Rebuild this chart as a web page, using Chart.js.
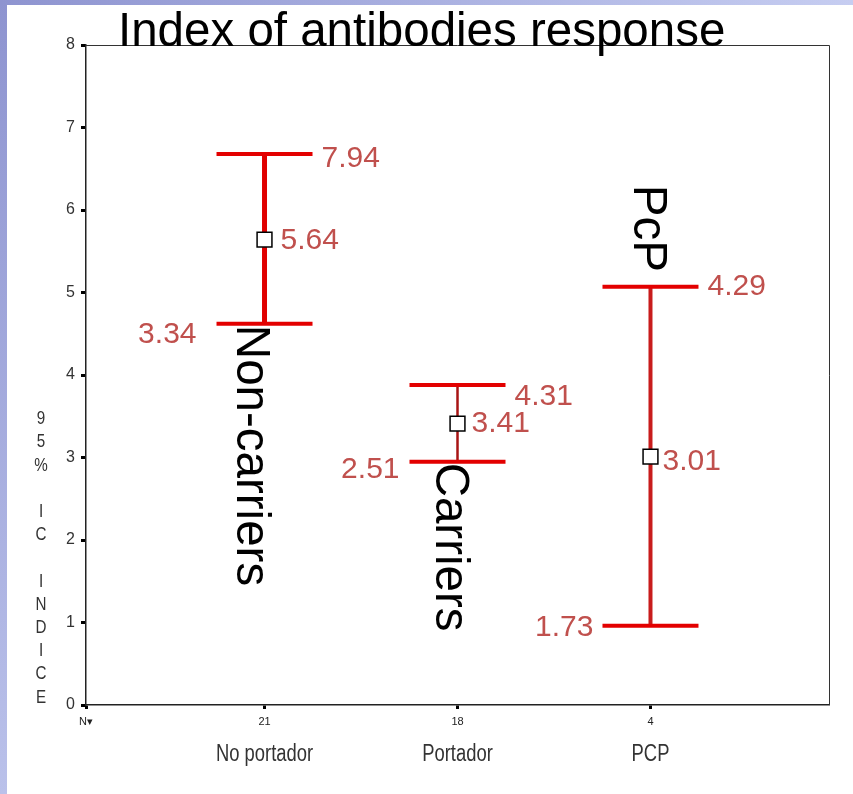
<!DOCTYPE html>
<html>
<head>
<meta charset="utf-8">
<script src="https://cdn.jsdelivr.net/npm/chart.js@4"></script>
<style>
  html, body { margin: 0; padding: 0; background: #fff; }
  #wrap { width: 853px; height: 794px; }
</style>
</head>
<body>
<div id="wrap"><canvas id="chart" width="853" height="794"></canvas></div>
<script>
// --- data ---
const categories = ['No portador', 'Portador', 'PCP'];
const groupNames = ['Non-carriers', 'Carriers', 'PcP'];
const nCounts = ['21', '18', '4'];
const means = [5.64, 3.41, 3.01];
const upperCI = [6.68, 3.88, 5.07];
const lowerCI = [4.62, 2.95, 0.96];
// value labels as written on the slide
const upperText = ['7.94', '4.31', '4.29'];
const meanText = ['5.64', '3.41', '3.01'];
const lowerText = ['3.34', '2.51', '1.73'];
const yLabelChars = ['9', '5', '%', '', 'I', 'C', '', 'I', 'N', 'D', 'I', 'C', 'E'];

const catPos = [1, 2, 3];
const X_MIN = 0.075, X_MAX = 3.925;

// --- styles ---
const RED = '#e30000';
const TEXT_RED = '#c0504d';
const SANS = "'Liberation Sans', Arial, sans-serif";
const NARROW_SCALE = 0.8; // fake Arial Narrow by squeezing Liberation Sans
const stemStyle = [
  { color: '#e00000', width: 5 },
  { color: '#a81414', width: 2.5 },
  { color: '#c81c1c', width: 4 },
];
const CAP_HALF = 48;

// text placement relative to each error bar
const valuePlace = [
  { up: [9, 4.5], mean: [16, 1], low: [-20, 11] },
  { up: [9, 12], mean: [14, 0], low: [-10, 8] },
  { up: [9, 0], mean: [12, 5], low: [-9, 2] },
];
const groupPlace = [
  { dx: -28, anchor: 'low', dy: 1 },
  { dx: -22, anchor: 'low', dy: 1 },
  { dx: -16, anchor: 'up', dy: -102 },
];

function narrowText(ctx, txt, cx, cy, size) {
  ctx.save();
  ctx.font = size + 'px ' + SANS;
  ctx.textAlign = 'center';
  ctx.textBaseline = 'middle';
  ctx.translate(cx, cy);
  ctx.scale(NARROW_SCALE, 1);
  ctx.fillText(txt, 0, 0);
  ctx.restore();
}

const slidePlugin = {
  id: 'slide',
  beforeDraw(chart) {
    const ctx = chart.ctx;
    ctx.save();
    ctx.fillStyle = '#fff';
    ctx.fillRect(0, 0, chart.width, chart.height);
    let g = ctx.createLinearGradient(0, 0, 0, chart.height);
    g.addColorStop(0, '#8e94d0');
    g.addColorStop(1, '#bac1ea');
    ctx.fillStyle = g;
    ctx.fillRect(0, 0, 7, chart.height);
    g = ctx.createLinearGradient(0, 0, chart.width, 0);
    g.addColorStop(0, '#8e94d0');
    g.addColorStop(1, '#c6cdf1');
    ctx.fillStyle = g;
    ctx.fillRect(0, 0, chart.width, 5);
    ctx.restore();
  }
};

const errorBarPlugin = {
  id: 'errorBars',
  beforeDatasetsDraw(chart) {
    const { ctx, scales: { x, y } } = chart;
    ctx.save();
    catPos.forEach((c, i) => {
      const px = x.getPixelForValue(c);
      const yUp = y.getPixelForValue(upperCI[i]);
      const yLo = y.getPixelForValue(lowerCI[i]);
      ctx.strokeStyle = stemStyle[i].color;
      ctx.lineWidth = stemStyle[i].width;
      ctx.beginPath();
      ctx.moveTo(px, yUp);
      ctx.lineTo(px, yLo);
      ctx.stroke();
      ctx.strokeStyle = RED;
      ctx.lineWidth = 4;
      ctx.beginPath();
      ctx.moveTo(px - CAP_HALF, yUp);
      ctx.lineTo(px + CAP_HALF, yUp);
      ctx.moveTo(px - CAP_HALF, yLo);
      ctx.lineTo(px + CAP_HALF, yLo);
      ctx.stroke();
    });
    ctx.restore();
  }
};

const textPlugin = {
  id: 'texts',
  afterDraw(chart) {
    const { ctx, chartArea: a, scales: { x, y } } = chart;
    ctx.save();
    // frame top and right
    ctx.strokeStyle = '#333';
    ctx.lineWidth = 1;
    ctx.beginPath();
    ctx.moveTo(a.left, a.top + 0.5);
    ctx.lineTo(a.right + 0.5, a.top + 0.5);
    ctx.lineTo(a.right + 0.5, a.bottom);
    ctx.stroke();

    // title
    ctx.fillStyle = '#000';
    ctx.font = '47.5px ' + SANS;
    ctx.textAlign = 'left';
    ctx.textBaseline = 'alphabetic';
    ctx.fillText('Index of antibodies response', 118, 46);

    // stacked y label
    ctx.fillStyle = '#333';
    yLabelChars.forEach((ch, k) => narrowText(ctx, ch, 41, 419 + k * 23.2, 19));

    // category names
    categories.forEach((c, i) => narrowText(ctx, c, x.getPixelForValue(catPos[i]), 755, 23));

    // value labels
    ctx.font = '30px ' + SANS;
    ctx.fillStyle = TEXT_RED;
    ctx.textBaseline = 'middle';
    catPos.forEach((c, i) => {
      const px = x.getPixelForValue(c);
      const p = valuePlace[i];
      const yUp = y.getPixelForValue(upperCI[i]);
      const yLo = y.getPixelForValue(lowerCI[i]);
      const yM = y.getPixelForValue(means[i]);
      ctx.textAlign = 'left';
      ctx.fillText(upperText[i], px + CAP_HALF + p.up[0], yUp + p.up[1]);
      ctx.fillText(meanText[i], px + p.mean[0], yM + p.mean[1]);
      ctx.textAlign = 'right';
      ctx.fillText(lowerText[i], px - CAP_HALF + p.low[0], yLo + p.low[1]);
    });

    // rotated group names
    ctx.font = '47.5px ' + SANS;
    ctx.fillStyle = '#000';
    ctx.textAlign = 'left';
    ctx.textBaseline = 'alphabetic';
    catPos.forEach((c, i) => {
      const g = groupPlace[i];
      const px = x.getPixelForValue(c) + g.dx;
      const py = y.getPixelForValue(g.anchor === 'up' ? upperCI[i] : lowerCI[i]) + g.dy;
      ctx.save();
      ctx.translate(px, py);
      ctx.rotate(Math.PI / 2);
      ctx.fillText(groupNames[i], 0, 0);
      ctx.restore();
    });
    ctx.restore();
  }
};

new Chart(document.getElementById('chart'), {
  type: 'scatter',
  data: {
    datasets: [{
      data: catPos.map((c, i) => ({ x: c, y: means[i] })),
      pointStyle: 'rect',
      radius: 10.5,
      borderColor: '#000',
      borderWidth: 1.5,
      backgroundColor: '#fff',
    }]
  },
  options: {
    responsive: false,
    animation: false,
    devicePixelRatio: 1,
    layout: { padding: { top: 45, right: 24, left: 0, bottom: 0 } },
    plugins: { legend: { display: false }, tooltip: { enabled: false } },
    scales: {
      x: {
        type: 'linear',
        min: X_MIN,
        max: X_MAX,
        afterBuildTicks: s => { s.ticks = [X_MIN, ...catPos].map(v => ({ value: v })); },
        afterFit: s => { s.height = 89; },
        grid: { drawOnChartArea: false, drawTicks: true, tickLength: 4, tickWidth: 3, tickColor: '#000' },
        border: { display: true, color: '#222', width: 1.5 },
        ticks: {
          autoSkip: false,
          maxRotation: 0,
          padding: 6,
          color: '#222',
          font: { family: SANS, size: 11 },
          callback: (v, idx) => idx === 0 ? 'N▾' : nCounts[idx - 1],
        },
      },
      y: {
        min: 0,
        max: 8,
        afterFit: s => { s.width = 86; },
        grid: { drawOnChartArea: false, drawTicks: true, tickLength: 5, tickWidth: 3, tickColor: '#000' },
        border: { display: true, color: '#222', width: 1.5 },
        ticks: {
          stepSize: 1,
          padding: 6,
          color: '#333',
          font: { family: SANS, size: 16 },
        },
      },
    },
  },
  plugins: [slidePlugin, errorBarPlugin, textPlugin],
});
</script>
</body>
</html>
